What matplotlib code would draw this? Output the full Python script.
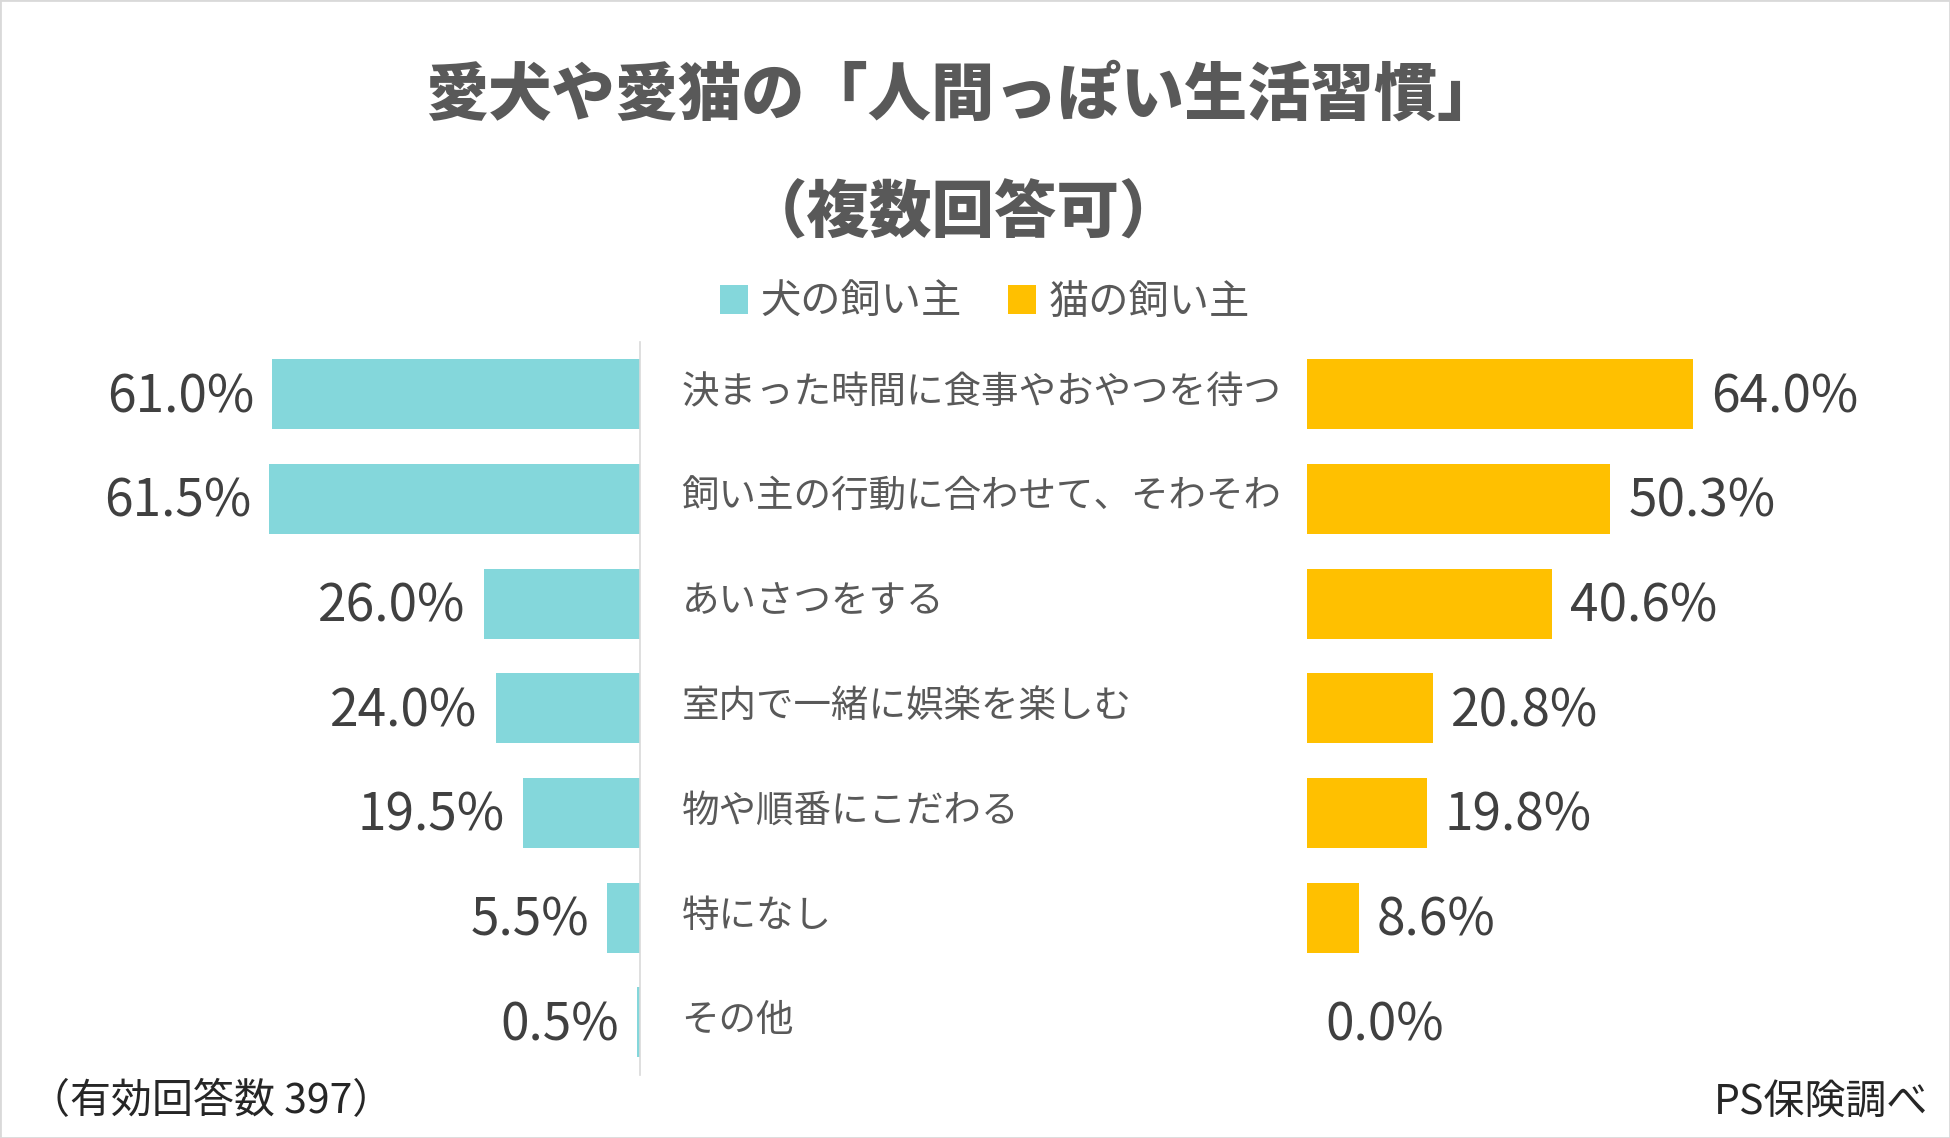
import matplotlib.pyplot as plt
from matplotlib import transforms
from matplotlib.patches import Rectangle

plt.rcParams["font.family"] = ["Noto Sans CJK JP", "DejaVu Sans"]

TITLE = "愛犬や愛猫の「人間っぽい生活習慣」"
SUBTITLE = "（複数回答可）"
categories = [
    "決まった時間に食事やおやつを待つ",
    "飼い主の行動に合わせて、そわそわ",
    "あいさつをする",
    "室内で一緒に娯楽を楽しむ",
    "物や順番にこだわる",
    "特になし",
    "その他",
]
dog_values = [61.0, 61.5, 26.0, 24.0, 19.5, 5.5, 0.5]
cat_values = [64.0, 50.3, 40.6, 20.8, 19.8, 8.6, 0.0]
series_names = ["犬の飼い主", "猫の飼い主"]
NOTE_LEFT = "（有効回答数 397）"
NOTE_RIGHT = "PS保険調べ"

DOG_COLOR = "#84D7DB"
CAT_COLOR = "#FFC000"
TITLE_COLOR = "#595959"
LABEL_COLOR = "#595959"
VALUE_COLOR = "#404040"

fig = plt.figure(figsize=(19.5, 11.38), dpi=100)
fig.patch.set_facecolor("white")
fig.patches.append(
    Rectangle((0, 0), 1, 1, transform=fig.transFigure, fill=False,
              edgecolor="#D9D9D9", linewidth=2)
)

bottom, top = 0.0557, 0.6995
ax_left = fig.add_axes([0.0191, bottom, 0.3284 - 0.0191, top - bottom])
ax_right = fig.add_axes([0.6703, bottom, 0.9796 - 0.6703, top - bottom])

ypos = list(range(len(categories)))
dog_bars = ax_left.barh(ypos, dog_values, height=0.667, color=DOG_COLOR)
cat_bars = ax_right.barh(ypos, cat_values, height=0.667, color=CAT_COLOR)

ax_left.set_xlim(100, 0)
ax_right.set_xlim(0, 100)
for ax in (ax_left, ax_right):
    ax.set_ylim(len(categories) - 0.5, -0.5)
    ax.set_xticks([])
    ax.set_yticks([])
    for side in ("top", "bottom", "left", "right"):
        ax.spines[side].set_visible(False)
    ax.patch.set_alpha(0)
ax_left.spines["right"].set_visible(True)
ax_left.spines["right"].set_color("#D9D9D9")
ax_left.spines["right"].set_linewidth(1.2)

for y, v in zip(ypos, dog_values):
    ax_left.annotate(f"{v:.1f}%", (v, y + 0.03), xytext=(-13, 0), textcoords="offset points",
                     ha="right", va="center", fontsize=37, color=VALUE_COLOR)
for y, v in zip(ypos, cat_values):
    ax_right.annotate(f"{v:.1f}%", (v, y + 0.03), xytext=(13, 0), textcoords="offset points",
                      ha="left", va="center", fontsize=37, color=VALUE_COLOR)

label_tf = transforms.blended_transform_factory(fig.transFigure, ax_left.transData)
for y, name in zip(ypos, categories):
    fig.text(0.3495, y - 0.015, name, transform=label_tf, ha="left", va="center",
             fontsize=27, color=LABEL_COLOR)

fig.text(0.4935, 1 - 77 / 915, TITLE, ha="center", va="center", fontsize=45.5,
         fontweight="black", color=TITLE_COLOR)
fig.text(0.494, 1 - 172 / 915, SUBTITLE, ha="center", va="center", fontsize=45,
         fontweight="black", color=TITLE_COLOR)

fig.legend([dog_bars, cat_bars], series_names, loc="center",
           bbox_to_anchor=(0.505, 1 - 243 / 915), ncol=2, frameon=False,
           fontsize=29, handlelength=0.7, handleheight=0.75, handletextpad=0.3,
           columnspacing=1.15, labelcolor=LABEL_COLOR)

fig.text(0.015, 1 - 886 / 915, NOTE_LEFT, ha="left", va="center", fontsize=29.5,
         color="#262626")
fig.text(0.989, 1 - 886 / 915, NOTE_RIGHT, ha="right", va="center", fontsize=29.5,
         color="#262626")

fig.savefig("out.png", dpi=100, facecolor="white")
